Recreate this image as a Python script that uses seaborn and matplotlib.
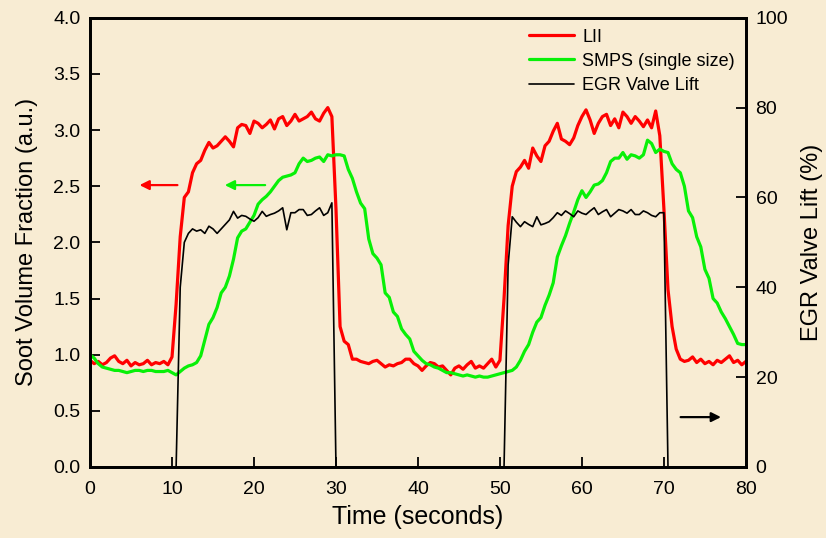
import numpy as np
import pandas as pd
import matplotlib
matplotlib.use("Agg")
import matplotlib.pyplot as plt
import seaborn as sns

# time grid (s), one sample every 0.5 s
time = np.arange(0, 80.5, 0.5)

# LII soot signal (a.u.)
lii = [
    0.95, 0.92, 0.94, 0.91, 0.93, 0.97, 0.99, 0.94, 0.92, 0.95,
    0.90, 0.93, 0.91, 0.92, 0.95, 0.91, 0.93, 0.92, 0.94, 0.91,
    0.98, 1.45, 2.05, 2.40, 2.45, 2.62, 2.70, 2.73, 2.82, 2.89,
    2.84, 2.86, 2.90, 2.94, 2.90, 2.85, 3.02, 3.05, 3.04, 2.97,
    3.08, 3.06, 3.02, 3.05, 3.09, 3.01, 3.10, 3.12, 3.04, 3.08,
    3.14, 3.08, 3.10, 3.12, 3.16, 3.10, 3.08, 3.15, 3.20, 3.12,
    2.30, 1.25, 1.12, 1.09, 0.96, 0.96, 0.94, 0.93, 0.92, 0.94,
    0.95, 0.92, 0.89, 0.91, 0.90, 0.92, 0.93, 0.96, 0.96, 0.92,
    0.90, 0.86, 0.90, 0.93, 0.92, 0.89, 0.90, 0.86, 0.82, 0.88,
    0.90, 0.87, 0.91, 0.94, 0.88, 0.90, 0.88, 0.92, 0.96, 0.89,
    0.95, 1.50, 2.15, 2.50, 2.63, 2.67, 2.73, 2.66, 2.84, 2.77,
    2.72, 2.86, 2.90, 2.99, 3.06, 2.92, 2.90, 2.87, 2.93, 3.04,
    3.12, 3.18, 3.09, 2.97, 3.06, 3.12, 3.14, 3.04, 3.10, 3.02,
    3.16, 3.12, 3.06, 3.12, 3.08, 3.03, 3.09, 3.02, 3.17, 2.95,
    2.30, 1.58, 1.25, 1.05, 0.96, 0.94, 0.95, 0.98, 0.93, 0.96,
    0.92, 0.94, 0.91, 0.95, 0.93, 0.96, 0.99, 0.93, 0.95, 0.91,
    0.94,
]

# SMPS (single size) signal (a.u.)
smps = [
    1.00, 0.97, 0.92, 0.89, 0.88, 0.87, 0.86, 0.86, 0.85, 0.84,
    0.85, 0.86, 0.86, 0.85, 0.86, 0.86, 0.85, 0.85, 0.85, 0.86,
    0.84, 0.82, 0.85, 0.88, 0.90, 0.91, 0.93, 0.99, 1.13, 1.27,
    1.33, 1.42, 1.55, 1.60, 1.70, 1.85, 2.04, 2.10, 2.12, 2.18,
    2.24, 2.34, 2.38, 2.41, 2.45, 2.50, 2.55, 2.58, 2.59, 2.60,
    2.62, 2.70, 2.75, 2.72, 2.73, 2.75, 2.76, 2.72, 2.78, 2.77,
    2.78, 2.78, 2.77, 2.65, 2.57, 2.45, 2.35, 2.30, 2.03, 1.90,
    1.86, 1.80, 1.55, 1.51, 1.38, 1.34, 1.23, 1.18, 1.14, 1.03,
    0.99, 0.95, 0.92, 0.91, 0.89, 0.88, 0.86, 0.84, 0.84, 0.83,
    0.82, 0.81, 0.82, 0.81, 0.80, 0.81, 0.80, 0.80, 0.81, 0.82,
    0.83, 0.84, 0.85, 0.86, 0.89, 0.95, 1.03, 1.09, 1.20, 1.29,
    1.33, 1.44, 1.53, 1.64, 1.87, 1.97, 2.06, 2.17, 2.27, 2.38,
    2.46, 2.40, 2.45, 2.51, 2.52, 2.55, 2.62, 2.72, 2.75, 2.75,
    2.80, 2.74, 2.78, 2.77, 2.75, 2.78, 2.91, 2.88, 2.80, 2.83,
    2.81, 2.80, 2.70, 2.65, 2.62, 2.50, 2.28, 2.22, 2.05, 1.96,
    1.76, 1.68, 1.50, 1.46, 1.38, 1.32, 1.25, 1.18, 1.10, 1.09,
    1.09,
]

# EGR valve lift (%)
egr = [
    0, 0, 0, 0, 0, 0, 0, 0, 0, 0,
    0, 0, 0, 0, 0, 0, 0, 0, 0, 0,
    0, 0, 40.0, 50.0, 52.0, 53.0, 52.5, 52.8, 52.0, 53.6,
    53.0, 52.0, 53.0, 54.0, 55.0, 56.9, 55.4, 56.0, 55.8, 55.2,
    54.7, 55.5, 56.9, 55.8, 56.2, 56.5, 57.0, 57.7, 52.8, 56.6,
    56.6, 57.3, 57.3, 56.0, 56.2, 57.0, 57.7, 56.0, 56.6, 58.8,
    0, 0, 0, 0, 0, 0, 0, 0, 0, 0,
    0, 0, 0, 0, 0, 0, 0, 0, 0, 0,
    0, 0, 0, 0, 0, 0, 0, 0, 0, 0,
    0, 0, 0, 0, 0, 0, 0, 0, 0, 0,
    0, 0, 45.0, 55.7, 54.5, 53.5, 54.6, 54.0, 53.5, 55.7,
    53.9, 54.2, 54.6, 55.5, 56.6, 56.0, 57.0, 56.4, 55.7, 57.0,
    56.5, 56.2, 57.0, 57.7, 56.2, 56.8, 57.3, 55.7, 56.5, 57.3,
    57.0, 56.5, 57.3, 56.2, 56.2, 57.0, 56.6, 56.0, 55.7, 56.6,
    56.6, 0, 0, 0, 0, 0, 0, 0, 0, 0,
    0, 0, 0, 0, 0, 0, 0, 0, 0, 0,
    0,
]

x_ticks = [0, 10, 20, 30, 40, 50, 60, 70, 80]
left_ticks = [0.0, 0.5, 1.0, 1.5, 2.0, 2.5, 3.0, 3.5, 4.0]
right_ticks = [0, 20, 40, 60, 80, 100]

df = pd.DataFrame({"time": time, "lii": lii, "smps": smps, "egr": egr})

bg = "#f8ecd3"
green = "#08f008"
sns.set_style("ticks")
plt.rcParams["font.family"] = ["Liberation Sans", "DejaVu Sans"]
plt.rcParams["text.color"] = "black"
plt.rcParams["xtick.color"] = "black"
plt.rcParams["ytick.color"] = "black"
plt.rcParams["axes.labelcolor"] = "black"

fig = plt.figure(figsize=(8.26, 5.38), dpi=100, facecolor=bg)
ax = fig.add_axes([0.109, 0.132, 0.794, 0.835])
ax.set_facecolor(bg)

sns.lineplot(data=df, x="time", y="lii", ax=ax, color="#ff0000", lw=2.3, label="LII")
sns.lineplot(data=df, x="time", y="smps", ax=ax, color=green, lw=2.3, label="SMPS (single size)")

ax2 = ax.twinx()
sns.lineplot(data=df, x="time", y="egr", ax=ax2, color="black", lw=1.2, label="EGR Valve Lift")

ax.set_xlim(0, 80)
ax.set_ylim(0, 4.0)
ax2.set_ylim(0, 100)
ax.set_xticks(x_ticks)
ax.set_yticks(left_ticks)
ax.set_yticklabels([f"{v:.1f}" for v in left_ticks])
ax2.set_yticks(right_ticks)

for a in (ax, ax2):
    for s in a.spines.values():
        s.set_linewidth(2.0)
        s.set_color("black")
ax.tick_params(axis="x", direction="in", length=7, width=1.3, labelsize=14, pad=10, top=False)
ax.tick_params(axis="y", direction="in", length=7, width=1.3, labelsize=14, pad=7, right=False)
ax2.tick_params(axis="y", direction="in", length=7, width=1.3, labelsize=14, pad=7)

ax.set_xlabel("Time (seconds)", fontsize=18, labelpad=5)
ax.set_ylabel("Soot Volume Fraction (a.u.)", fontsize=17, labelpad=11)
ax2.set_ylabel("EGR Valve Lift (%)", fontsize=17, labelpad=9)

# arrows pointing to the axis each curve belongs to
ax.annotate("", xy=(5.7, 2.51), xytext=(11.0, 2.51),
            arrowprops=dict(arrowstyle="-|>", color="#ff0000", lw=1.6, mutation_scale=14))
ax.annotate("", xy=(16.1, 2.51), xytext=(21.7, 2.51),
            arrowprops=dict(arrowstyle="-|>", color=green, lw=1.6, mutation_scale=14))
ax2.annotate("", xy=(77.3, 11.1), xytext=(71.7, 11.1),
             arrowprops=dict(arrowstyle="-|>", color="black", lw=1.6, mutation_scale=14))

h1, l1 = ax.get_legend_handles_labels()
h2, l2 = ax2.get_legend_handles_labels()
ax.get_legend().remove()
ax2.legend(h1 + h2, l1 + l2, loc="upper right", frameon=False, fontsize=13,
           handlelength=2.5, handletextpad=0.45, labelspacing=0.4,
           borderaxespad=0.2, bbox_to_anchor=(1.0, 1.0))

fig.savefig("out.png", dpi=100, facecolor=bg)
